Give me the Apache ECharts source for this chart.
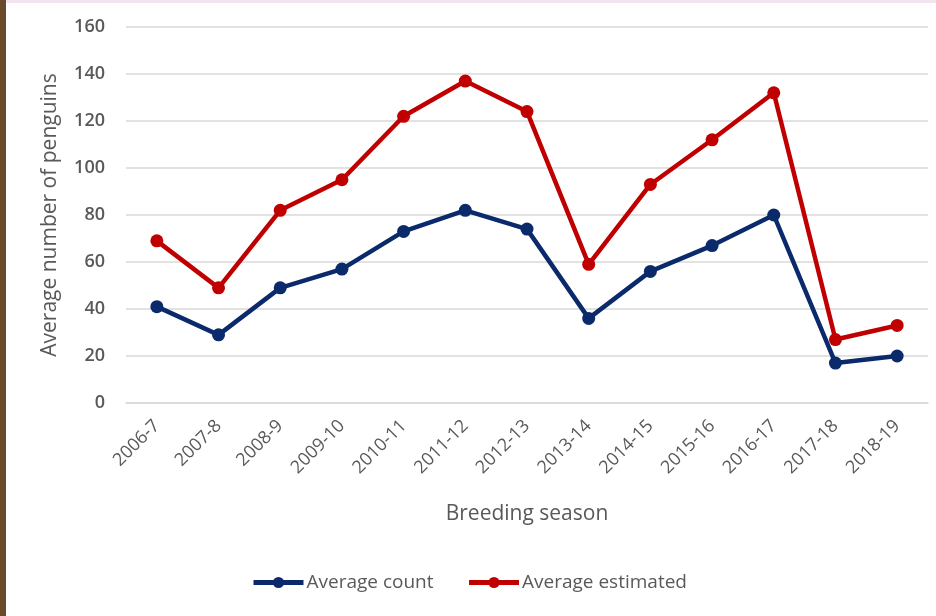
<!DOCTYPE html>
<html>
<head>
<meta charset="utf-8">
<script src="https://cdn.jsdelivr.net/npm/echarts@6/dist/echarts.min.js"></script>
<style>
  html, body { margin: 0; padding: 0; background: #ffffff; }
  #chart { width: 936px; height: 616px; }
</style>
</head>
<body>
<div id="chart"></div>
<script>
// Breeding seasons along the x axis
const seasons = ['2006-7', '2007-8', '2008-9', '2009-10', '2010-11', '2011-12', '2012-13',
                 '2013-14', '2014-15', '2015-16', '2016-17', '2017-18', '2018-19'];

// Average number of penguins counted per season
const averageCount = [41, 29, 49, 57, 73, 82, 74, 36, 56, 67, 80, 17, 20];

// Average estimated number of penguins per season
const averageEstimated = [69, 49, 82, 95, 122, 137, 124, 59, 93, 112, 132, 27, 33];

// Value axis ticks
const yTicks = { min: 0, max: 160, step: 20 };

const textColor = '#595959';
const fontFamily = '"Open Sans", "Noto Sans", sans-serif';
const navy = '#0b2a6b';
const red = '#c00000';

const chart = echarts.init(document.getElementById('chart'));

chart.setOption({
  backgroundColor: '#ffffff',
  animation: false,
  textStyle: { fontFamily: fontFamily, color: textColor },
  graphic: [
    // brown strip along the left edge and thin pink band on top
    { type: 'rect', left: 0, top: 0, shape: { width: 6, height: 616 }, style: { fill: '#6b4a2c' }, z: 100 },
    { type: 'rect', left: 6, top: 0, shape: { width: 930, height: 3 }, style: { fill: '#f0e4ee' }, z: 100 }
  ],
  grid: { left: 126, right: 8, top: 27, bottom: 213, containLabel: false },
  legend: {
    left: 246,
    top: 568,
    itemGap: 33,
    itemWidth: 50,
    itemHeight: 14,
    lineStyle: { width: 5 },
    textStyle: { fontSize: 19, color: textColor, fontFamily: fontFamily, padding: [0, 0, 0, -2] },
    data: ['Average count', 'Average estimated']
  },
  xAxis: {
    type: 'category',
    data: seasons,
    boundaryGap: true,
    name: 'Breeding season',
    nameLocation: 'middle',
    nameGap: 101,
    nameTextStyle: { fontSize: 21, color: textColor, fontFamily: fontFamily },
    axisLine: { show: true, lineStyle: { color: '#d9d9d9', width: 1.5 } },
    axisTick: { show: false },
    axisLabel: { rotate: 45, margin: 20, fontSize: 18, color: textColor, fontFamily: fontFamily }
  },
  yAxis: {
    type: 'value',
    min: yTicks.min,
    max: yTicks.max,
    interval: yTicks.step,
    name: 'Average number of penguins',
    nameLocation: 'middle',
    nameGap: 65,
    nameTextStyle: { fontSize: 21, color: textColor, fontFamily: fontFamily },
    axisLine: { show: false },
    axisTick: { show: false },
    axisLabel: { margin: 21, fontSize: 18, fontWeight: 600, color: textColor, fontFamily: fontFamily },
    splitLine: { show: true, lineStyle: { color: '#d9d9d9', width: 1.5 } }
  },
  series: [
    {
      name: 'Average count',
      type: 'line',
      data: averageCount,
      symbol: 'circle',
      symbolSize: 13,
      lineStyle: { color: navy, width: 4.5 },
      itemStyle: { color: navy }
    },
    {
      name: 'Average estimated',
      type: 'line',
      data: averageEstimated,
      symbol: 'circle',
      symbolSize: 13,
      lineStyle: { color: red, width: 4.5 },
      itemStyle: { color: red }
    }
  ]
});
</script>
</body>
</html>
